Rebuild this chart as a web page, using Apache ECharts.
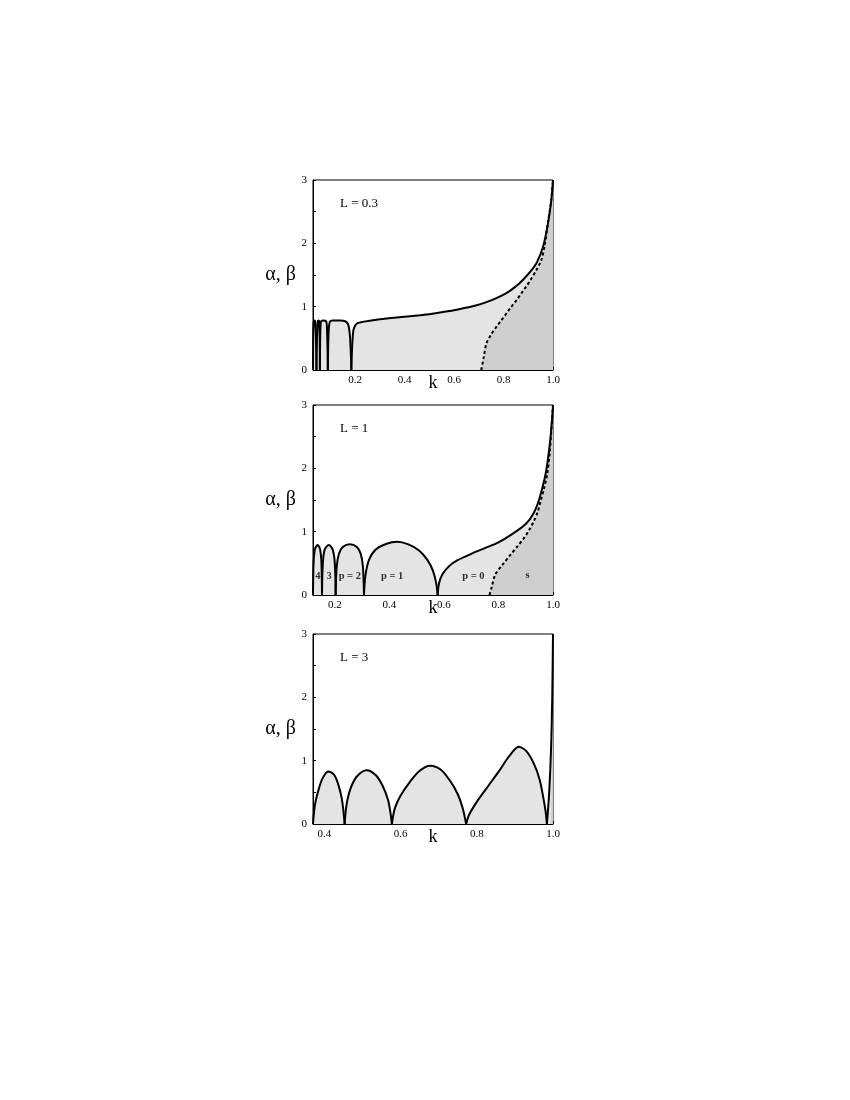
<!DOCTYPE html>
<html>
<head>
<meta charset="utf-8">
<script src="https://cdn.jsdelivr.net/npm/echarts@6/dist/echarts.min.js"></script>
<style>
html,body{margin:0;padding:0;background:#fff;}
#c{width:850px;height:1100px;}
</style>
</head>
<body>
<div id="c"></div>
<script>
// ---------- data ----------
const panelLabels = ['L = 0.3', 'L = 1', 'L = 3'];
const kMin = [0.03, 0.12, 0.37];
const kMax = 1.0;
const xTicks1 = [0.1, 0.2, 0.3, 0.4, 0.5, 0.6, 0.7, 0.8, 0.9, 1.0];
const xLabels1 = [0.2, 0.4, 0.6, 0.8, 1.0];
const xTicks2 = [0.2, 0.3, 0.4, 0.5, 0.6, 0.7, 0.8, 0.9, 1.0];
const xLabels2 = [0.2, 0.4, 0.6, 0.8, 1.0];
const xTicks3 = [0.4, 0.5, 0.6, 0.7, 0.8, 0.9, 1.0];
const xLabels3 = [0.4, 0.6, 0.8, 1.0];
const yTicks = [0, 0.5, 1, 1.5, 2, 2.5, 3];
const yLabels = [0, 1, 2, 3];

// L = 0.3 : solid boundary (alpha) and dotted boundary (beta)
const solidL03 = [
  [0.03,0],[0.031,0.6],[0.033,0.76],[0.036,0.78],[0.039,0.76],[0.042,0.5],[0.044,0],
  [0.046,0.5],[0.049,0.76],[0.053,0.78],[0.055,0.76],[0.057,0.5],[0.058,0],
  [0.059,0.5],[0.062,0.76],[0.07,0.78],[0.083,0.77],[0.087,0.6],[0.09,0],
  [0.093,0.6],[0.098,0.76],[0.11,0.78],[0.14,0.78],[0.16,0.77],[0.172,0.72],
  [0.179,0.55],[0.183,0.25],[0.185,0],[0.188,0.35],[0.193,0.62],[0.2,0.7],
  [0.21,0.74],[0.23,0.76],[0.3,0.8],[0.4,0.84],[0.5,0.88],[0.58,0.93],
  [0.68,1.01],[0.75,1.1],[0.81,1.21],[0.85,1.32],[0.88,1.43],[0.91,1.56],
  [0.935,1.7],[0.96,1.95],[0.98,2.32],[0.993,2.68],[1.0,3.0]
];
const dashL03 = [
  [0.71,0],[0.72,0.2],[0.731,0.42],[0.75,0.56],[0.771,0.68],[0.79,0.78],
  [0.811,0.89],[0.83,0.99],[0.852,1.1],[0.872,1.21],[0.892,1.32],[0.912,1.44],
  [0.933,1.58],[0.953,1.74],[0.967,1.98],[0.979,2.32],[0.993,2.68],[1.0,3.0]
];

// L = 1
const solidL1 = [
  [0.12,0],[0.122,0.5],[0.127,0.72],[0.137,0.79],[0.146,0.72],[0.151,0.5],[0.153,0],
  [0.156,0.5],[0.163,0.72],[0.178,0.79],[0.192,0.72],[0.2,0.5],[0.203,0],
  [0.207,0.45],[0.215,0.65],[0.23,0.76],[0.255,0.8],[0.28,0.76],[0.295,0.65],[0.303,0.45],[0.307,0],
  [0.312,0.3],[0.325,0.55],[0.35,0.72],[0.39,0.81],[0.427,0.84],[0.47,0.8],
  [0.51,0.7],[0.54,0.55],[0.56,0.38],[0.572,0.18],[0.577,0],
  [0.582,0.18],[0.595,0.33],[0.62,0.46],[0.65,0.55],[0.7,0.65],[0.75,0.74],
  [0.8,0.83],[0.85,0.96],[0.9,1.12],[0.93,1.3],[0.95,1.52],[0.97,1.85],
  [0.98,2.1],[0.99,2.45],[0.997,2.8],[1.0,3.0]
];
const dashL1 = [
  [0.767,0],[0.775,0.12],[0.788,0.32],[0.815,0.48],[0.843,0.63],[0.868,0.76],
  [0.892,0.89],[0.912,1.02],[0.929,1.16],[0.943,1.3],[0.954,1.47],[0.967,1.68],
  [0.978,1.89],[0.987,2.2],[0.994,2.6],[1.0,3.0]
];

// L = 3
const solidL3 = [
  [0.37,0],[0.375,0.3],[0.385,0.55],[0.395,0.72],[0.41,0.83],[0.425,0.78],
  [0.435,0.65],[0.445,0.42],[0.45,0.2],[0.453,0],
  [0.458,0.3],[0.468,0.55],[0.485,0.75],[0.511,0.85],[0.535,0.77],[0.553,0.6],
  [0.567,0.38],[0.574,0.15],[0.577,0],
  [0.585,0.25],[0.6,0.45],[0.625,0.67],[0.65,0.84],[0.677,0.92],[0.705,0.86],
  [0.73,0.68],[0.75,0.47],[0.763,0.25],[0.772,0],
  [0.78,0.15],[0.8,0.35],[0.83,0.6],[0.86,0.85],[0.885,1.07],[0.91,1.22],
  [0.93,1.15],[0.95,0.95],[0.965,0.7],[0.975,0.4],[0.981,0.18],[0.984,0],
  [0.99,0.5],[0.995,1.2],[0.998,2.0],[1.0,3.0]
];
const darkL3 = [[0.994,0],[0.998,1.0],[1.0,3.0]];

// region labels (L = 1 panel)
const regionText = ['4', '3', 'p = 2', 'p = 1', 'p = 0', 's'];
const regionK = [0.138, 0.179, 0.255, 0.41, 0.708, 0.907];
const regionV = [0.29, 0.29, 0.29, 0.29, 0.29, 0.31];

// ---------- chart ----------
const FONT = 'Liberation Serif';
const LIGHT = '#e4e4e4';
const DARK = '#cfcfcf';
const SMOOTH = 0.3;
const grids = [
  {left: 313, top: 180, width: 240, height: 190},
  {left: 313, top: 405, width: 240, height: 190},
  {left: 313, top: 634, width: 240, height: 190}
];
const xTickSets = [xTicks1, xTicks2, xTicks3];
const xLabelSets = [xLabels1, xLabels2, xLabels3];

// split a boundary curve into its arches (pieces meeting at zeros -> sharp cusps)
function splitAtZeros(arr) {
  const segs = [];
  let cur = [arr[0]];
  for (let i = 1; i < arr.length; i++) {
    cur.push(arr[i]);
    if (arr[i][1] === 0 && i < arr.length - 1) {
      segs.push(cur);
      cur = [arr[i]];
    }
  }
  if (cur.length > 1) segs.push(cur);
  return segs;
}

const chart = echarts.init(document.getElementById('c'), null, {renderer: 'canvas'});

const xAxes = grids.map((g, i) => ({
  gridIndex: i, type: 'value', min: kMin[i], max: kMax,
  axisLine: {show: true, onZero: false, lineStyle: {color: '#000', width: 1}},
  axisTick: {show: true, inside: true, length: 3, customValues: xTickSets[i], lineStyle: {color: '#000'}},
  axisLabel: {customValues: xLabelSets[i], formatter: v => Number(v).toFixed(1), color: '#000',
    fontFamily: FONT, fontSize: 11, margin: 5},
  splitLine: {show: false},
  name: 'k', nameLocation: 'middle', nameGap: 4, nameMoveOverlap: false,
  nameTextStyle: {fontFamily: FONT, fontSize: 18, color: '#000', verticalAlign: 'top'}
}));
const yAxes = grids.map((g, i) => ({
  gridIndex: i, type: 'value', min: 0, max: 3,
  axisLine: {show: true, lineStyle: {color: '#000', width: 1}},
  axisTick: {show: true, inside: true, length: 3, customValues: yTicks, lineStyle: {color: '#000'}},
  axisLabel: {customValues: yLabels, color: '#000', fontFamily: FONT, fontSize: 11, margin: 6},
  splitLine: {show: false},
  name: 'α, β', nameLocation: 'middle', nameRotate: 0, nameGap: 17, nameMoveOverlap: false,
  nameTextStyle: {fontFamily: FONT, fontSize: 20, color: '#000', align: 'right', verticalAlign: 'middle'}
}));

function areaSeries(data, idx, color, z) {
  return {type: 'line', xAxisIndex: idx, yAxisIndex: idx, data: data, showSymbol: false,
    smooth: SMOOTH,
    lineStyle: {width: 0, opacity: 0}, areaStyle: {color: color, opacity: 1}, z: z, silent: true, animation: false};
}
function lineSeries(data, idx, dashed, z) {
  return {type: 'line', xAxisIndex: idx, yAxisIndex: idx, data: data, showSymbol: false,
    smooth: SMOOTH,
    lineStyle: {color: '#000', width: 2, type: dashed ? [3, 2.5] : 'solid'},
    z: z, silent: true, animation: false};
}

const solids = [solidL03, solidL1, solidL3];
const dashes = [dashL03, dashL1, null];
const darks = [dashL03, dashL1, darkL3];
const series = [];
solids.forEach((arr, idx) => {
  const segs = splitAtZeros(arr);
  segs.forEach(s => series.push(areaSeries(s, idx, LIGHT, 1)));
  series.push(areaSeries(darks[idx], idx, DARK, 2));
  if (dashes[idx]) series.push(lineSeries(dashes[idx], idx, true, 3));
  segs.forEach(s => series.push(lineSeries(s, idx, false, 4)));
});

series.push({
  type: 'scatter', xAxisIndex: 1, yAxisIndex: 1, symbolSize: 0, z: 5, silent: true, animation: false,
  data: regionText.map((t, i) => ({value: [regionK[i], regionV[i]], name: t})),
  label: {show: true, position: 'inside', formatter: p => p.name, color: '#000',
    fontFamily: FONT, fontWeight: 'bold', fontSize: 10.5}
});

const graphics = grids.map((g, i) => ({
  type: 'text', left: g.left + 27, top: g.top + 17,
  style: {text: panelLabels[i], font: '13px "Liberation Serif"', fill: '#000'}
}));

chart.setOption({
  animation: false,
  backgroundColor: '#fff',
  grid: grids.map(g => Object.assign({show: true, borderColor: '#000', borderWidth: 1, backgroundColor: 'transparent', containLabel: false}, g)),
  xAxis: xAxes,
  yAxis: yAxes,
  series: series,
  graphic: graphics
});
</script>
</body>
</html>
